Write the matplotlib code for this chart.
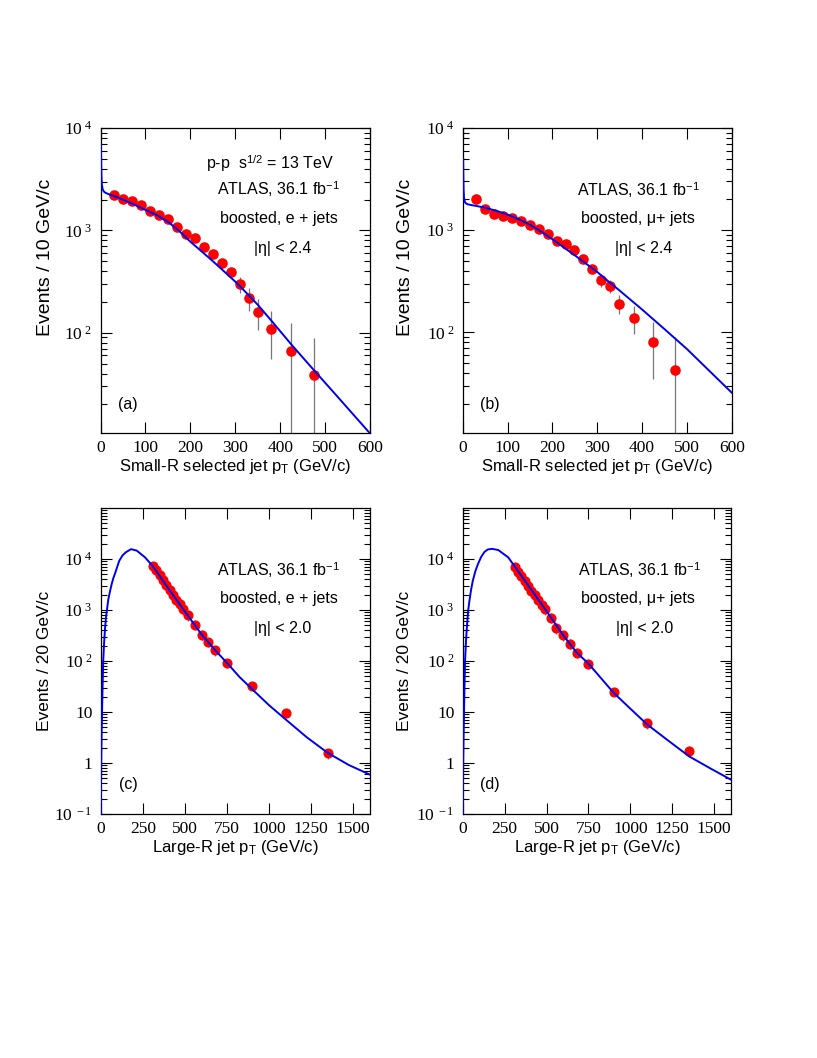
import numpy as np
import matplotlib
matplotlib.use('Agg')
import matplotlib.pyplot as plt
from matplotlib.ticker import LogLocator, NullFormatter

plt.rcParams['font.family'] = 'Liberation Serif'
plt.rcParams['mathtext.fontset'] = 'custom'
plt.rcParams['mathtext.rm'] = 'Liberation Serif'
plt.rcParams['mathtext.it'] = 'Liberation Serif:italic'
plt.rcParams['mathtext.sf'] = 'Liberation Sans'

# ---- values ----
# (a) small-R jet pT, e + jets
a_x = [30, 50, 70, 90, 110, 130, 150, 170, 190, 210, 230, 250, 270, 290, 310, 330, 350, 380, 425, 475]
a_y = [2230, 2030, 1950, 1770, 1560, 1420, 1290, 1080, 915, 840, 690, 590, 480, 395, 300, 218, 160, 110, 67, 38.5]
a_lo = [15, 15, 15, 15, 15, 15, 20, 20, 20, 20, 25, 25, 30, 35, 54, 55, 54, 55, 57, 37]
a_hi = [15, 15, 15, 15, 15, 15, 20, 20, 20, 20, 25, 25, 30, 35, 54, 55, 54, 55, 57, 50]
a_fx = [1.0, 1.4, 2, 3, 5, 8, 12, 20, 30, 50, 75, 100, 125, 150, 175, 200, 225, 250, 275, 300, 325, 350, 380, 425, 475, 525, 600]
a_fy = [6800, 5000, 3500, 2800, 2500, 2380, 2320, 2240, 2170, 1995, 1790, 1585, 1413, 1216, 989, 776, 624, 501, 398, 316, 245, 188, 132, 76.7, 43.2, 24.5, 10.4]

# (b) small-R jet pT, mu + jets
b_x = [30, 50, 70, 89, 109, 129, 149, 170, 190, 210, 230, 249, 269, 289, 309, 329, 349, 381, 424, 474]
b_y = [2028, 1630, 1445, 1381, 1321, 1225, 1120, 1038, 927, 787, 740, 636, 520, 422, 324, 283, 192, 139, 80.7, 43.3]
b_lo = [15, 15, 15, 15, 15, 15, 15, 20, 20, 20, 20, 25, 25, 30, 46, 40, 42, 42, 46, 42]
b_hi = [15, 15, 15, 15, 15, 15, 15, 20, 20, 20, 20, 25, 25, 30, 46, 40, 42, 42, 46, 47]
b_fx = [1.0, 1.4, 2, 3, 5, 8, 12, 20, 30, 50, 75, 100, 125, 150, 175, 200, 225, 250, 275, 300, 325, 350, 400, 450, 500, 550, 600]
b_fy = [5010, 3500, 2500, 2050, 1880, 1820, 1790, 1760, 1730, 1660, 1550, 1422, 1282, 1135, 970, 817, 682, 569, 472, 391, 316, 257, 168, 108, 69, 42.2, 25.8]

# (c) large-R jet pT, e + jets
c_x = [310, 330, 350, 370, 390, 410, 430, 450, 470, 490, 520, 560, 600, 640, 680, 750, 900, 1100, 1350]
c_y = [7200, 5950, 4800, 3850, 3100, 2500, 2000, 1600, 1300, 1040, 790, 515, 330, 236, 163, 92, 32.5, 9.7, 1.55]
c_err = [1580, 1310, 1060, 850, 680, 550, 440, 350, 290, 230, 175, 115, 73, 52, 36, 19, 5, 1.5, 0.37]
c_fx = [0.8, 1.5, 3, 5, 8, 11, 15, 20, 26, 32, 37, 45, 55, 65, 75, 90, 110, 130, 150, 180, 214, 263, 310, 400, 500, 600, 680, 750, 825, 900, 1000, 1100, 1225, 1350, 1475, 1600]
c_fy = [0.05, 0.3, 1, 3, 10, 30, 100, 220, 450, 750, 1000, 1600, 2300, 3200, 4200, 5800, 9200, 11800, 13600, 15600, 14600, 10800, 7200, 2700, 935, 330, 163, 92, 48.5, 28, 13.6, 7.1, 3.18, 1.57, 0.91, 0.59]

# (d) large-R jet pT, mu + jets
d_x = [310, 330, 350, 370, 390, 410, 430, 450, 470, 490, 525, 558, 600, 640, 680, 750, 900, 1100, 1350]
d_y = [6900, 5600, 4550, 3700, 2980, 2400, 1950, 1580, 1280, 1030, 707, 437, 318, 219, 146, 89, 25, 6.0, 1.75]
d_err = [1500, 1230, 1000, 810, 650, 530, 430, 350, 280, 225, 155, 96, 70, 48, 32, 19, 4.5, 1.4, 0.45]
d_fx = [0.8, 1.5, 3, 5, 8, 11, 14, 20, 26, 33, 40, 50, 60, 75, 90, 110, 130, 150, 176, 212, 271, 307, 400, 500, 600, 680, 750, 825, 900, 1000, 1100, 1225, 1350, 1475, 1600]
d_fy = [0.05, 0.3, 1, 3, 10, 35, 100, 260, 520, 1000, 1500, 2500, 3700, 5700, 7800, 11000, 13800, 15400, 15800, 15000, 10800, 7400, 2750, 950, 318, 146, 89, 46, 23.8, 11.6, 5.7, 2.76, 1.35, 0.79, 0.47]

top_ticks = [1e2, 1e3, 1e4]
top_labels = [r'$\mathrm{10^{\,\,2}}$', r'$\mathrm{10^{\,\,3}}$', r'$\mathrm{10^{\,\,4}}$']
bot_ticks = [0.1, 1, 10, 1e2, 1e3, 1e4]
bot_labels = [r'$\mathrm{10^{\,\,-1}}$', '1', '10', r'$\mathrm{10^{\,\,2}}$', r'$\mathrm{10^{\,\,3}}$', r'$\mathrm{10^{\,\,4}}$']

W, H = 817, 1058
fig = plt.figure(figsize=(8.17, 10.58), dpi=100)

def box(l, t, r, b):
    return fig.add_axes([l / W, 1 - b / H, (r - l) / W, (b - t) / H])

def ptext(px, py, s):
    fig.text(px / W, 1 - py / H, s, ha='center', va='center', family='Liberation Sans', fontsize=11.5)

def style(ax, xmax, xstep, ylo, yhi, yt, ytl):
    ax.set_yscale('log')
    ax.set_xlim(0, xmax)
    ax.set_xticks(np.arange(0, xmax + 1, xstep))
    ax.set_yticks(yt)
    ax.set_yticklabels(ytl)
    ax.yaxis.set_minor_locator(LogLocator(base=10, subs=np.arange(2, 10), numticks=30))
    ax.yaxis.set_minor_formatter(NullFormatter())
    ax.set_ylim(ylo, yhi)
    ax.tick_params(which='both', direction='in', top=True, right=True, width=0.8, labelsize=12.5)
    ax.tick_params(which='major', length=8)
    ax.tick_params(which='minor', length=4.5)
    ax.tick_params(axis='x', pad=5)
    ax.tick_params(axis='y', pad=6)
    for s in ax.spines.values():
        s.set_linewidth(0.9)

def draw(ax, x, y, err, fx, fy, ms):
    ax.errorbar(x, y, yerr=err, fmt='o', color='red', mec='red', ms=ms,
                ecolor='#777777', elinewidth=0.9, capsize=0, zorder=2)
    ax.plot(fx, fy, color='#0000ee', lw=1.4, zorder=3)

ax_a = box(100.5, 128, 370, 433)
ax_b = box(462.7, 128, 731.7, 433)
ax_c = box(100.7, 508, 370, 814)
ax_d = box(462.7, 508, 731, 814)

draw(ax_a, a_x, a_y, [a_lo, a_hi], a_fx, a_fy, 6.6)
draw(ax_b, b_x, b_y, [b_lo, b_hi], b_fx, b_fy, 6.6)
draw(ax_c, c_x, c_y, c_err, c_fx, c_fy, 6.3)
draw(ax_d, d_x, d_y, d_err, d_fx, d_fy, 6.3)

style(ax_a, 600, 100, 10.5, 1e4, top_ticks, top_labels)
style(ax_b, 600, 100, 10.4, 1e4, top_ticks, top_labels)
style(ax_c, 1600, 250, 0.1, 1e5, bot_ticks, bot_labels)
style(ax_d, 1600, 250, 0.1, 1e5, bot_ticks, bot_labels)

lab = dict(family='Liberation Sans', fontsize=12, va='center')
ax_a.set_xlabel('Small-R selected jet p$_{\\mathsf{T}}$ (GeV/c)', **lab)
ax_b.set_xlabel('Small-R selected jet p$_{\\mathsf{T}}$ (GeV/c)', **lab)
ax_c.set_xlabel('Large-R jet p$_{\\mathsf{T}}$ (GeV/c)', **lab)
ax_d.set_xlabel('Large-R jet p$_{\\mathsf{T}}$ (GeV/c)', **lab)
ax_a.set_ylabel('Events / 10 GeV/c', family='Liberation Sans', fontsize=14, va='center')
ax_b.set_ylabel('Events / 10 GeV/c', family='Liberation Sans', fontsize=14, va='center')
ax_c.set_ylabel('Events / 20 GeV/c', family='Liberation Sans', fontsize=12.5, va='center')
ax_d.set_ylabel('Events / 20 GeV/c', family='Liberation Sans', fontsize=12.5, va='center')
for ax in (ax_a, ax_b, ax_c, ax_d):
    ax.xaxis.set_label_coords(0.5, -0.111)
ax_a.yaxis.set_label_coords(-0.205, 0.577)
ax_b.yaxis.set_label_coords(-0.213, 0.577)
ax_c.yaxis.set_label_coords(-0.208, 0.5)
ax_d.yaxis.set_label_coords(-0.216, 0.5)

# annotations
ptext(270, 163, 'p-p  s$^{\\mathsf{1/2}}$ = 13 TeV')
ptext(278, 189, 'ATLAS, 36.1 fb$^{\\mathsf{-1}}$')
ptext(279, 218, 'boosted, e + jets')
ptext(283, 249, '|η| < 2.4')
ptext(638, 190, 'ATLAS, 36.1 fb$^{\\mathsf{-1}}$')
ptext(638, 218, 'boosted, μ+ jets')
ptext(644, 249, '|η| < 2.4')
ptext(278, 570, 'ATLAS, 36.1 fb$^{\\mathsf{-1}}$')
ptext(279, 599, 'boosted, e + jets')
ptext(283, 629, '|η| < 2.0')
ptext(639, 570, 'ATLAS, 36.1 fb$^{\\mathsf{-1}}$')
ptext(638, 599, 'boosted, μ+ jets')
ptext(645, 629, '|η| < 2.0')
ptext(128, 405, '(a)')
ptext(490, 405, '(b)')
ptext(128, 785, '(c)')
ptext(490, 785, '(d)')

fig.savefig('out.png', dpi=100)
